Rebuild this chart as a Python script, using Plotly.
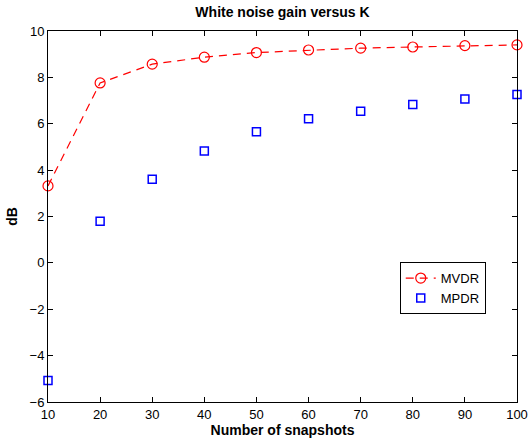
import plotly.graph_objects as go

snapshots = [10, 20, 30, 40, 50, 60, 70, 80, 90, 100]
mvdr_db = [3.32, 7.76, 8.57, 8.87, 9.07, 9.18, 9.26, 9.31, 9.37, 9.40]
mpdr_db = [-5.07, 1.80, 3.61, 4.82, 5.66, 6.22, 6.54, 6.83, 7.07, 7.26]
x_ticks = [10, 20, 30, 40, 50, 60, 70, 80, 90, 100]
y_ticks = [-6, -4, -2, 0, 2, 4, 6, 8, 10]
y_ticklabels = ["\u22126", "\u22124", "\u22122", "0", "2", "4", "6", "8", "10"]

FONT = "Liberation Sans, Arial, Helvetica, sans-serif"

fig = go.Figure()
fig.add_trace(go.Scatter(
    x=snapshots, y=mvdr_db, name="MVDR", mode="lines+markers",
    line=dict(color="red", width=1.2, dash="8px,6px"),
    marker=dict(symbol="circle-open", size=10, color="red", line=dict(width=1.2)),
    cliponaxis=False,
))
fig.add_trace(go.Scatter(
    x=snapshots, y=mpdr_db, name="MPDR", mode="markers",
    marker=dict(symbol="square-open", size=8, color="blue", line=dict(width=1.5)),
    cliponaxis=False,
))

axis_common = dict(
    showgrid=False, zeroline=False, showline=True, linecolor="black", linewidth=1,
    mirror="ticks", ticks="inside", ticklen=5, tickcolor="black", automargin=False,
    tickfont=dict(family=FONT, size=13, color="black"),
)
fig.update_layout(
    width=532, height=438,
    margin=dict(l=48, r=15, t=31, b=36, autoexpand=False),
    paper_bgcolor="white", plot_bgcolor="white",
    title=dict(text="<b>White noise gain versus K</b>", x=0.5, xanchor="center",
               xref="paper", y=0.972, yanchor="middle",
               font=dict(family=FONT, size=14, color="black")),
    xaxis=dict(range=[10, 100], tickvals=x_ticks, **axis_common,
               title=dict(text="<b>Number of snapshots</b>", standoff=1,
                          font=dict(family=FONT, size=14, color="black"))),
    yaxis=dict(range=[-6, 10], tickvals=y_ticks, ticktext=y_ticklabels, **axis_common,
               title=dict(text="<b>dB</b>", standoff=8,
                          font=dict(family=FONT, size=14, color="black"))),
    legend=dict(x=0.75, y=0.377, xanchor="left", yanchor="top",
                bordercolor="black", borderwidth=1, bgcolor="white",
                font=dict(family=FONT, size=13, color="black"),
                tracegroupgap=2),
    showlegend=True,
)

fig.write_html("out.html")
